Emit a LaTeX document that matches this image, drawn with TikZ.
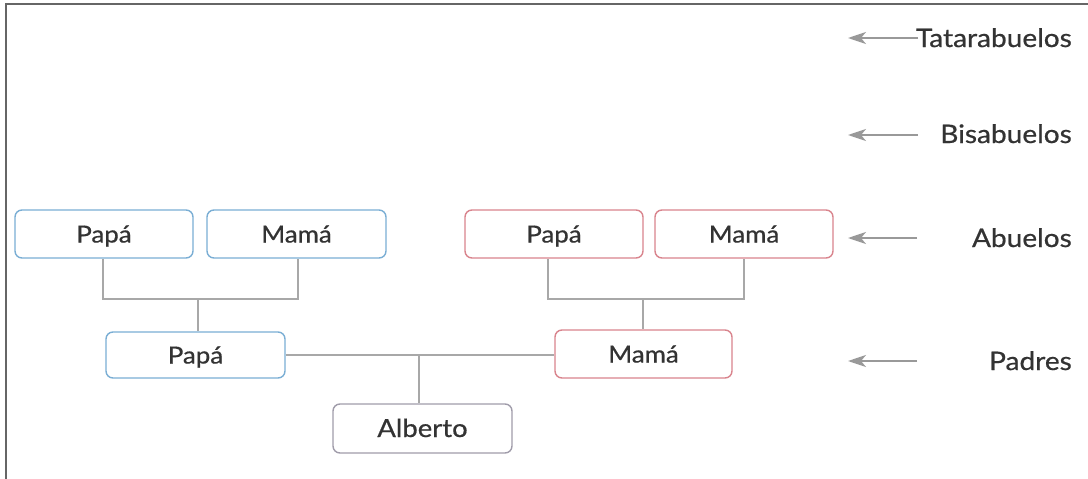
\documentclass[tikz,border=0pt]{standalone}
\usepackage{fontspec}
\setmainfont{Lato}[FakeStretch=1.1, FakeBold=0.6]
\usetikzlibrary{arrows.meta}
\definecolor{txt}{HTML}{333333}
\definecolor{bluebd}{HTML}{7AAED4}
\definecolor{redbd}{HTML}{D9848D}
\definecolor{graybd}{HTML}{A09CAA}
\definecolor{conn}{HTML}{A8A8A8}
\definecolor{arr}{HTML}{999999}
\tikzset{
  person/.style={draw, line width=1.4pt, rounded corners=7pt, fill=white,
    inner sep=0pt, text=txt, font=\fontsize{23.5}{25}\selectfont,
    text height=17pt, text depth=0pt},
  bluebox/.style={person, draw=bluebd},
  redbox/.style={person, draw=redbd},
  kidbox/.style={person, draw=graybd},
  link/.style={draw=conn, line width=1.1pt},
  genarrow/.style={draw=arr, line width=1.4pt, -{Stealth[length=18pt,width=12pt,inset=5pt]}},
  genlabel/.style={text=txt, font=\fontsize{25.5}{27}\selectfont, inner sep=0pt, anchor=base east}
}
\begin{document}
\begin{tikzpicture}[x=1pt,y=-1pt]
\useasboundingbox (0,0) rectangle (1088,479);
\draw[draw=gray!80!black, line width=1.5pt] (6,479) -- (6,4) -- (1088,4);

% grandparents
\node[bluebox, minimum width=178pt, minimum height=48pt] (gpP) at (104,234) {Papá};
\node[bluebox, minimum width=179pt, minimum height=48pt] (gpM) at (296.5,234) {Mamá};
\node[redbox, minimum width=178pt, minimum height=48pt] (mgP) at (554,234) {Papá};
\node[redbox, minimum width=178pt, minimum height=48pt] (mgM) at (744,234) {Mamá};
% parents
\node[bluebox, minimum width=179pt, minimum height=46pt] (dad) at (195.5,355) {Papá};
\node[redbox, minimum width=177pt, minimum height=48pt] (mom) at (643.5,354) {Mamá};
% child
\node[kidbox, minimum width=179pt, minimum height=49pt] (kid) at (422.5,428.5) {\fontsize{25}{27}\selectfont Alberto};

% connectors
\coordinate (j1) at (198,299);
\coordinate (j2) at (643,299);
\coordinate (j3) at (419,355);
\draw[link] ([xshift=-1pt]gpP.south) |- (j1) -| ([xshift=1.5pt]gpM.south);
\draw[link] (j1) -- (j1 |- dad.north);
\draw[link] ([xshift=-6pt]mgP.south) |- (j2) -| (mgM.south);
\draw[link] (j2) -- (j2 |- mom.north);
\draw[link] (dad.east |- j3) -- (mom.west |- j3);
\draw[link] (j3) -- (j3 |- kid.north);

% generation labels
\node[genlabel] (l1) at (1072,47) {Tatarabuelos};
\node[genlabel] (l2) at (1072,143) {Bisabuelos};
\node[genlabel] (l3) at (1072,247) {Abuelos};
\node[genlabel] (l4) at (1072,370) {Padres};
\coordinate (a1) at (918,38);
\coordinate (a2) at (918,135);
\coordinate (a3) at (917,238);
\coordinate (a4) at (917,361);
\draw[genarrow] (a1) -- ++(-70,0);
\draw[genarrow] (a2) -- ++(-70,0);
\draw[genarrow] (a3) -- ++(-69,0);
\draw[genarrow] (a4) -- ++(-69,0);
\end{tikzpicture}
\end{document}
